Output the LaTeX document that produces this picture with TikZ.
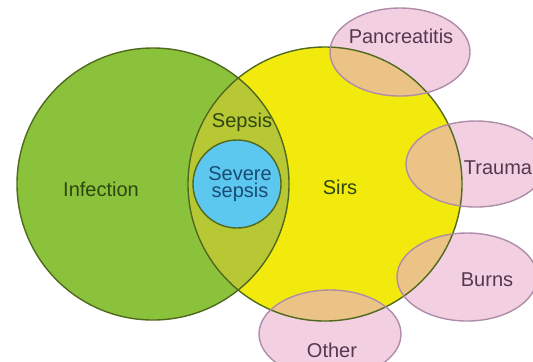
\documentclass[tikz,border=0pt]{standalone}
\usepackage{fontspec}
\setmainfont{Liberation Sans}

\definecolor{infgreen}{RGB}{138,194,60}
\definecolor{sirsyellow}{RGB}{242,234,12}
\definecolor{lensolive}{RGB}{184,200,52}
\definecolor{sevblue}{RGB}{92,200,240}
\definecolor{causepink}{RGB}{242,208,226}
\definecolor{causetan}{RGB}{235,195,135}
\definecolor{rimgreen}{RGB}{80,105,30}
\definecolor{rimpink}{RGB}{175,140,168}
\definecolor{txtgreen}{RGB}{45,70,15}
\definecolor{txtblue}{RGB}{25,75,115}
\definecolor{txtpurple}{RGB}{85,55,80}

\tikzset{
  lbl/.style={anchor=base, inner sep=0pt, font=\fontsize{10}{8.5}\selectfont},
  rim/.style={draw=rimgreen, line width=0.7pt},
  causerim/.style={draw=rimpink, line width=0.7pt}
}

\begin{document}
\begin{tikzpicture}[x=0.5pt,y=-0.5pt]
      \useasboundingbox (0,0) rectangle (533,361);
      \clip (0,0) rectangle (533,361);

      \coordinate (I)  at (153,184);
      \coordinate (S)  at (325,184);
      \coordinate (B)  at (237,184);
      \coordinate (P)  at (400,52);
      \coordinate (T)  at (476,164);
      \coordinate (Bu) at (467,277);
      \coordinate (O)  at (330,334);

      \fill[infgreen] (I) circle[radius=136];
      \fill[sirsyellow] (S) circle[radius=137];
      \begin{scope}
        \clip (I) circle[radius=136];
        \fill[lensolive] (S) circle[radius=137];
      \end{scope}
      \fill[sevblue] (B) circle[radius=44];

      \fill[causepink] (P) ellipse[x radius=70, y radius=44]
                       (T) ellipse[x radius=70, y radius=43]
                       (Bu) ellipse[x radius=70, y radius=44]
                       (O) ellipse[x radius=71, y radius=44];
      \begin{scope}
        \clip (S) circle[radius=137];
        \fill[causetan] (P) ellipse[x radius=70, y radius=44]
                        (T) ellipse[x radius=70, y radius=43]
                        (Bu) ellipse[x radius=70, y radius=44]
                        (O) ellipse[x radius=71, y radius=44];
      \end{scope}

      \draw[rim] (I) circle[radius=136] (S) circle[radius=137] (B) circle[radius=44];
      \draw[causerim] (P) ellipse[x radius=70, y radius=44]
                      (T) ellipse[x radius=70, y radius=43]
                      (Bu) ellipse[x radius=70, y radius=44]
                      (O) ellipse[x radius=71, y radius=44];

      \node[lbl, txtgreen] (inf)  at (101,196) {Infection};
      \node[lbl, txtgreen] (sep)  at (242,127) {Sepsis};
      \node[lbl, txtgreen] (sirs) at (340,194) {Sirs};
      \node[txtblue, align=center, inner sep=0pt, font=\fontsize{10}{8.5}\selectfont]
           (sev) at (240,184) {Severe\\sepsis};

      \node[lbl, txtpurple] (pan) at (401,43)  {Pancreatitis};
      \node[lbl, txtpurple] (tra) at (498,174) {Trauma};
      \node[lbl, txtpurple] (bur) at (487,286) {Burns};
      \node[lbl, txtpurple] (oth) at (332,357) {Other};
    \end{tikzpicture}
\end{document}
